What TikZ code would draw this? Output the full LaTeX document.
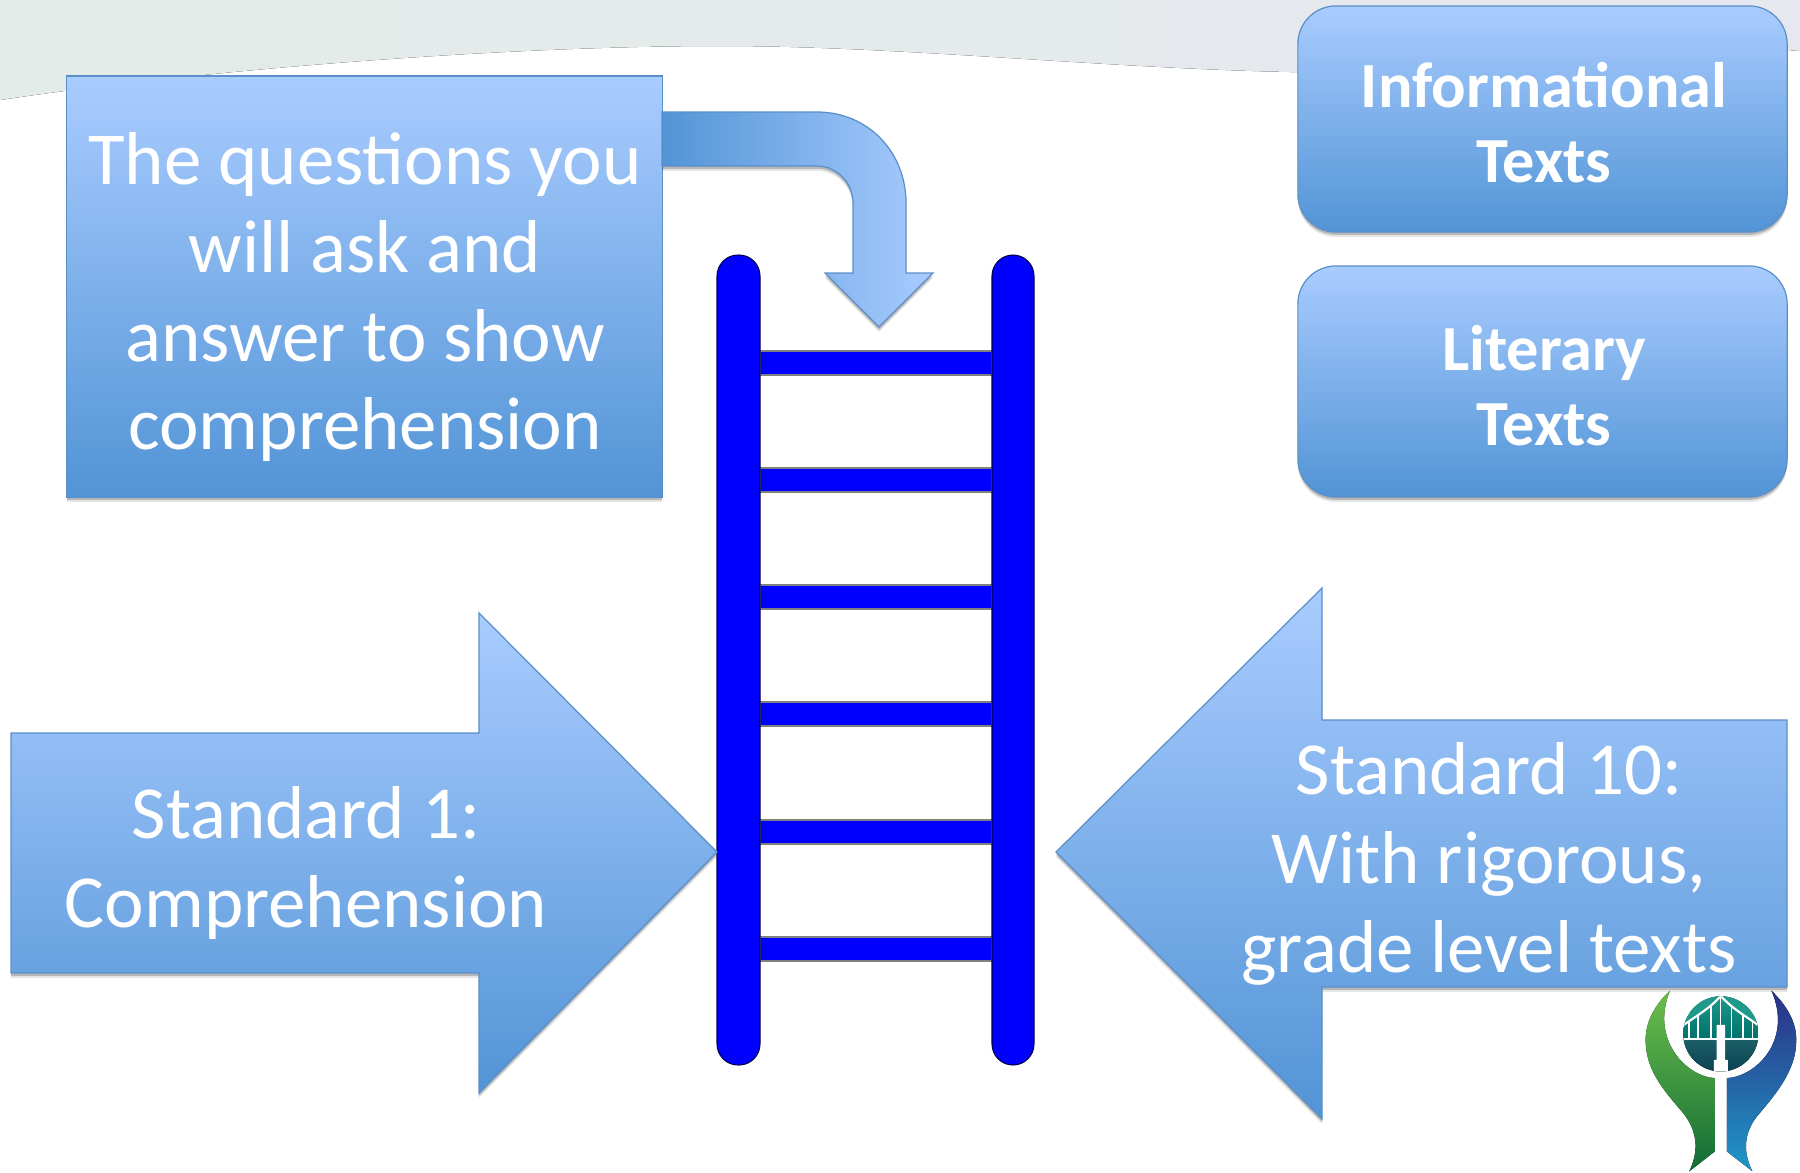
\documentclass[tikz,border=0pt]{standalone}
\usepackage{fontspec}
\setmainfont{Carlito}
\usetikzlibrary{calc,shadows}
\definecolor{boxtop}{HTML}{A9CCFF}
\definecolor{boxbottom}{HTML}{5294D6}
\definecolor{boxline}{HTML}{5B8FC8}
\definecolor{railblue}{HTML}{0000FF}
\definecolor{bandleft}{HTML}{E3ECE8}
\definecolor{bandright}{HTML}{E6E8EF}
\definecolor{leaftop}{HTML}{6CBF4B}
\definecolor{leafbottom}{HTML}{116B35}
\definecolor{palmtop}{HTML}{2B2F85}
\definecolor{palmmid}{HTML}{1470B0}
\definecolor{palmbottom}{HTML}{1F98C8}
\definecolor{skytop}{HTML}{1F9A8A}
\definecolor{skybottom}{HTML}{00706B}
\definecolor{seatop}{HTML}{1B6068}
\definecolor{seabottom}{HTML}{0A4050}
\tikzset{
  softshadow/.style={drop shadow={shadow xshift=0pt,shadow yshift=-1.4pt,opacity=.1,fill=black},
    drop shadow={shadow xshift=0pt,shadow yshift=-.8pt,opacity=.2,fill=black}},
  bluefill/.style={top color=boxtop,bottom color=boxbottom,draw=boxline,line width=.35pt},
  bluebox/.style={bluefill,softshadow,inner sep=0pt,align=center,text=white},
  arrowtext/.style={text=white,align=center,font=\fontsize{21.3}{25.2}\selectfont},
  boldtext/.style={font=\fontsize{18.3}{21.3}\selectfont\bfseries},
  rail/.style={fill=railblue,draw=black!70!blue,line width=.3pt,rounded corners=.21cm},
  rung/.style={fill=railblue,draw=black!50!white,line width=.3pt}
}
\begin{document}
\begin{tikzpicture}[x=.01cm,y=-.01cm]
    \useasboundingbox(0,0)rectangle(1800,1172);
    \fill[left color=bandleft,right color=bandright]
        (0,0)--(1800,0)--(1800,50)..controls(1650,62)and(1450,72)..(1290,72)
        ..controls(1100,68)and(900,46)..(720,46)
        ..controls(500,46)and(200,70)..(0,100)--cycle;
    \node(question)[bluebox,minimum width=5.95cm,minimum height=4.21cm]at(364.5,286.5){};
    \node(questiontext)[arrowtext]at(365,297)
        {The questions you\\will ask and\\answer to show\\comprehension};
    \coordinate(A)at(662,112);
    \coordinate(B)at(817,112);
    \coordinate(C)at(906,203);
    \coordinate(D)at(906,273);
    \coordinate(E)at(933,273);
    \coordinate(F)at(879,327);
    \coordinate(G)at(825,273);
    \coordinate(H)at(853,273);
    \coordinate(I)at(853,203);
    \coordinate(J)at(817,166);
    \coordinate(K)at(662,166);
    \draw[left color=boxbottom,right color=boxtop,draw=boxline,line width=.35pt,softshadow]
        (A)--(B)..controls(868,112)and(906,152)..(C)--(D)--(E)--(F)--(G)--(H)--(I)
        ..controls(853,183)and(837,166)..(J)--(K)--cycle;
    \foreach \y in {351,468,585,702,820,937}
        \draw[rung](760,\y)rectangle(992,\y+24);
    \draw[rail](717,1065)--(717,255)--(760,255)--(760,1065)--cycle;
    \draw[rail](992,1065)--(992,255)--(1034,255)--(1034,1065)--cycle;
    \draw[bluefill,softshadow](11,733)--(479,733)--(479,613)--(717,852)--(479,1093)--(479,973)--(11,973)--cycle;
    \node(comprehension)[arrowtext]at(306,863){Standard 1:\\Comprehension};
    \draw[bluefill,softshadow](1787,720)--(1322,720)--(1322,588)--(1056,852)--(1322,1119)--(1322,987)--(1787,987)--cycle;
    \node(rigorous)[arrowtext]at(1489,864){Standard 10:\\With rigorous,\\grade level texts};
    \node(informational)[bluebox,minimum width=4.89cm,minimum height=2.26cm,rounded corners=.38cm]at(1542.5,119){};
    \node(informationaltext)[text=white,align=center,boldtext]at(1544,123){Informational\\Texts};
    \node(literary)[bluebox,minimum width=4.89cm,minimum height=2.31cm,rounded corners=.38cm]at(1542.5,381.5){};
    \node(literarytext)[text=white,align=center,boldtext]at(1544,386){Literary\\Texts};
    \begin{scope}[shift={(1600,960)},x=.00333cm,y=-.00333cm]
        \fill[top color=leaftop,bottom color=leafbottom]
            (210,92)..controls(160,140)and(137,190)..(137,240)
            ..controls(137,330)and(190,390)..(250,460)
            ..controls(290,510)and(300,570)..(268,635)--(345,575)--(345,355)
            ..controls(260,350)and(150,240)..(210,92)--cycle;
        \fill[top color=palmtop,middle color=palmmid,bottom color=palmbottom]
            (515,92)..controls(565,140)and(590,190)..(590,240)
            ..controls(590,330)and(530,400)..(480,460)
            ..controls(435,510)and(425,570)..(458,635)--(381,575)--(381,355)
            ..controls(470,350)and(580,240)..(515,92)--cycle;
        \begin{scope}
            \clip(363,222)circle(113);
            \fill[top color=skytop,bottom color=skybottom](250,105)rectangle(476,238);
            \fill[top color=seatop,bottom color=seabottom](250,238)rectangle(476,340);
            \foreach \x in {268,295,333,395,430,458}
                \draw[white,line width=.5pt](\x,130)--(\x,238);
            \draw[white,line width=.3pt](363,108)--(363,195);
            \fill[skytop](245,100)--(363,100)--(363,108)..controls(325,150)and(285,170)..(245,200)--cycle;
            \fill[skytop](481,100)--(363,100)--(363,108)..controls(401,150)and(441,170)..(481,200)--cycle;
            \draw[white,line width=.6pt](245,200)..controls(285,170)and(325,150)..(363,108)
                ..controls(401,150)and(441,170)..(481,200);
            \draw[white,line width=.6pt](250,238)--(476,238);
            \fill[white](350,195)--(376,195)--(376,300)--(384,300)--(384,345)--(342,345)--(342,300)--(350,300)--cycle;
        \end{scope}
    \end{scope}
\end{tikzpicture}
\end{document}
